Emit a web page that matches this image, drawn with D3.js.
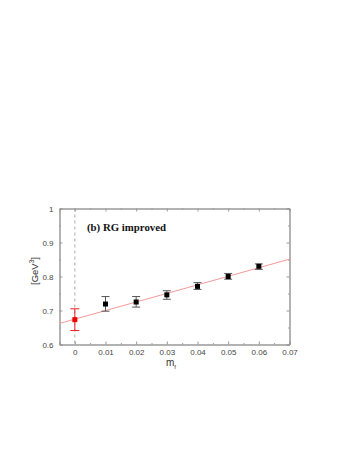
<!DOCTYPE html>
<html><head><meta charset="utf-8">
<script src="https://cdn.jsdelivr.net/npm/d3@7"></script>
<style>html,body{margin:0;padding:0;background:#fff;}</style>
</head><body>
<script>
const mf = [0.01, 0.02, 0.03, 0.04, 0.05, 0.06];
const values = [0.719, 0.725, 0.746, 0.771, 0.800, 0.830];
const errLo = [0.698, 0.710, 0.733, 0.762, 0.792, 0.821];
const errHi = [0.741, 0.741, 0.758, 0.782, 0.809, 0.837];
const chiralX = [0];
const chiralVal = [0.673];
const chiralLo = [0.641];
const chiralHi = [0.705];
const fitX = [-0.005, 0.07];
const fitY = [0.662, 0.851];
const xTicks = [0, 0.01, 0.02, 0.03, 0.04, 0.05, 0.06, 0.07];
const xTickLabels = ["0", "0.01", "0.02", "0.03", "0.04", "0.05", "0.06", "0.07"];
const yTicks = [0.6, 0.7, 0.8, 0.9, 1.0];
const yTickLabels = ["0.6", "0.7", "0.8", "0.9", "1"];
const xMinor = [-0.005, 0.005, 0.015, 0.025, 0.035, 0.045, 0.055, 0.065];
const yMinor = [0.65, 0.75, 0.85, 0.95];

const W = 349, H = 451;
const L = 59.5, R = 289.5, T = 208.5, B = 344.5;
const svg = d3.select("body").append("svg").attr("width", W).attr("height", H);
const x = d3.scaleLinear().domain([-0.005, 0.07]).range([L, R]);
const y = d3.scaleLinear().domain([0.6, 1.0]).range([B, T]);
const frameCol = "#999";
const txtCol = "#444";

// dashed line at x=0
svg.append("line").attr("x1", x(0)).attr("x2", x(0)).attr("y1", T).attr("y2", B)
  .attr("stroke", "#aaa").attr("stroke-dasharray", "3,3").attr("stroke-width", 1);

// axes (ticks inward)
const axB = d3.axisBottom(x).tickValues(xTicks).tickSize(-3).tickFormat((d,i)=>xTickLabels[i]).tickPadding(5);
const axL = d3.axisLeft(y).tickValues(yTicks).tickSize(-3).tickFormat((d,i)=>yTickLabels[i]).tickPadding(6);
const axT = d3.axisTop(x).tickValues(xTicks).tickSize(-3).tickFormat("");
const axR = d3.axisRight(y).tickValues(yTicks).tickSize(-3).tickFormat("");
function style(g){
  g.select(".domain").attr("stroke", frameCol);
  g.selectAll(".tick line").attr("stroke", frameCol);
  g.selectAll(".tick text").attr("fill", txtCol).style("font-family", "'Liberation Sans', Arial, sans-serif").style("font-size", "8px");
}
svg.append("g").attr("transform", `translate(0,${B})`).call(axB).call(style);
svg.append("g").attr("transform", `translate(${L},0)`).call(axL).call(style);
svg.append("g").attr("transform", `translate(0,${T})`).call(axT).call(style);
svg.append("g").attr("transform", `translate(${R},0)`).call(axR).call(style);
// minor ticks
const mB = d3.axisBottom(x).tickValues(xMinor).tickSize(-1.5).tickFormat("");
const mT = d3.axisTop(x).tickValues(xMinor).tickSize(-1.5).tickFormat("");
const mL = d3.axisLeft(y).tickValues(yMinor).tickSize(-1.5).tickFormat("");
const mR = d3.axisRight(y).tickValues(yMinor).tickSize(-1.5).tickFormat("");
svg.append("g").attr("transform", `translate(0,${B})`).call(mB).call(style);
svg.append("g").attr("transform", `translate(0,${T})`).call(mT).call(style);
svg.append("g").attr("transform", `translate(${L},0)`).call(mL).call(style);
svg.append("g").attr("transform", `translate(${R},0)`).call(mR).call(style);

// fit line
svg.append("line").attr("x1", x(fitX[0])).attr("y1", y(fitY[0])).attr("x2", x(fitX[1])).attr("y2", y(fitY[1]))
  .attr("stroke", "#f59a9a").attr("stroke-width", 1);

// error bars
function errbars(xs, lo, hi, col, cap){
  const g = svg.append("g").attr("stroke", col).attr("stroke-width", 1);
  xs.forEach((xv, i) => {
    g.append("line").attr("x1", x(xv)).attr("x2", x(xv)).attr("y1", y(lo[i])).attr("y2", y(hi[i]));
    g.append("line").attr("x1", x(xv)-cap).attr("x2", x(xv)+cap).attr("y1", y(lo[i])).attr("y2", y(lo[i]));
    g.append("line").attr("x1", x(xv)-cap).attr("x2", x(xv)+cap).attr("y1", y(hi[i])).attr("y2", y(hi[i]));
  });
}
errbars(mf, errLo, errHi, "#555", 4);
errbars(chiralX, chiralLo, chiralHi, "#e82020", 4.5);

const s = 5;
svg.selectAll("rect.pt").data(mf).enter().append("rect").attr("class", "pt")
  .attr("x", d => x(d) - s/2).attr("y", (d,i) => y(values[i]) - s/2)
  .attr("width", s).attr("height", s).attr("fill", "#000");
svg.selectAll("rect.ch").data(chiralX).enter().append("rect").attr("class", "ch")
  .attr("x", d => x(d) - s/2).attr("y", (d,i) => y(chiralVal[i]) - s/2)
  .attr("width", s).attr("height", s).attr("fill", "#ee0000");

// label
svg.append("text").attr("x", 87).attr("y", 230.5).text("(b) RG improved")
  .style("font-family", "'Liberation Serif', 'Times New Roman', serif").style("font-weight", "bold")
  .style("font-size", "10.8px").attr("fill", "#111");

// axis titles
const yl = svg.append("text").attr("transform", `translate(37.5,271) rotate(-90)`).attr("text-anchor", "middle")
  .style("font-family", "'Liberation Sans', Arial, sans-serif").style("font-size", "9.5px").attr("fill", "#333");
yl.append("tspan").text("[GeV");
yl.append("tspan").text("3").attr("dy", -4).style("font-size", "6.5px");
yl.append("tspan").text("]").attr("dy", 4);

const xl = svg.append("text").attr("x", 171).attr("y", 366).attr("text-anchor", "middle")
  .style("font-family", "'Liberation Sans', Arial, sans-serif").style("font-size", "10px").attr("fill", "#333");
xl.append("tspan").text("m");
xl.append("tspan").text("f").attr("dy", 2.5).style("font-size", "6px");
</script>
</body></html>
